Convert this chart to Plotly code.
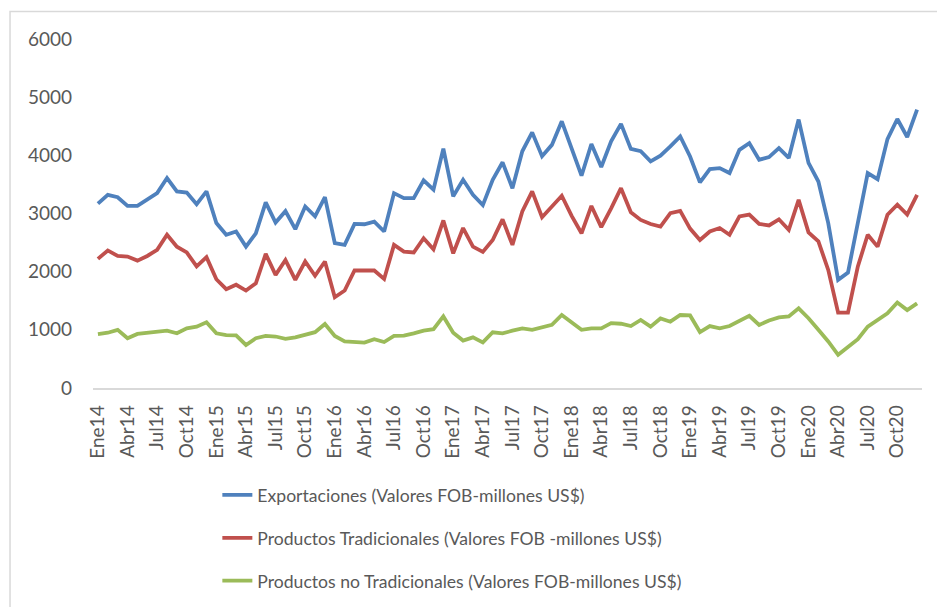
import plotly.graph_objects as go

months = ["Ene", "Feb", "Mar", "Abr", "May", "Jun", "Jul", "Ago", "Set", "Oct", "Nov", "Dic"]
years = ["14", "15", "16", "17", "18", "19", "20"]
categories = [m + y for y in years for m in months]

exportaciones = [
    3170, 3320, 3280, 3130, 3130, 3235, 3350, 3610, 3380, 3360, 3160, 3380,
    2835, 2635, 2690, 2430, 2660, 3190, 2845, 3040, 2730, 3120, 2950, 3280,
    2490, 2460, 2820, 2815, 2860, 2690, 3350, 3265, 3265, 3570, 3410, 4115,
    3295, 3580, 3320, 3145, 3580, 3880, 3435, 4070, 4395, 3985, 4180, 4585,
    4095, 3650, 4195, 3800, 4240, 4540, 4110, 4070, 3895, 3995, 4155, 4325,
    3980, 3535, 3765, 3780, 3695, 4095, 4210, 3925, 3970, 4125, 3955, 4615,
    3870, 3550, 2835, 1860, 1985, 2835, 3695, 3590, 4280, 4625, 4315, 4785,
]

tradicionales = [
    2220, 2365, 2270, 2260, 2190, 2270, 2375, 2635, 2430, 2330, 2090, 2250,
    1870, 1700, 1775, 1675, 1800, 2305, 1945, 2200, 1860, 2175, 1930, 2175,
    1560, 1675, 2020, 2020, 2020, 1875, 2460, 2345, 2330, 2575, 2385, 2880,
    2315, 2750, 2430, 2340, 2545, 2900, 2460, 3035, 3380, 2935, 3130, 3305,
    2960, 2660, 3130, 2765, 3090, 3435, 3020, 2890, 2820, 2775, 3005, 3045,
    2740, 2545, 2690, 2750, 2635, 2950, 2980, 2820, 2795, 2900, 2720, 3235,
    2675, 2520, 2030, 1295, 1295, 2090, 2635, 2430, 2980, 3150, 2980, 3320,
]

no_tradicionales = [
    925, 950, 1000, 855, 930, 950, 975, 985, 940, 1025, 1055, 1130,
    940, 910, 905, 740, 855, 895, 885, 845, 870, 920, 960, 1100,
    895, 800, 790, 780, 840, 790, 895, 900, 940, 985, 1010, 1230,
    950, 815, 870, 785, 958, 940, 985, 1025, 1000, 1045, 1085, 1255,
    1125, 1000, 1025, 1025, 1115, 1105, 1065, 1170, 1055, 1195, 1140, 1255,
    1248, 962, 1065, 1025, 1065, 1160, 1240, 1085, 1160, 1215, 1230, 1370,
    1200, 1000, 800, 570, 710, 840, 1055, 1180, 1285, 1470, 1340, 1455,
]

series_names = [
    "Exportaciones (Valores FOB-millones US$)",
    "Productos Tradicionales (Valores FOB -millones US$)",
    "Productos no Tradicionales (Valores FOB-millones US$)",
]
colors = ["#4F81BD", "#C0504D", "#9BBB59"]
y_ticks = [0, 1000, 2000, 3000, 4000, 5000, 6000]

FONT = "Lato, 'Open Sans', sans-serif"
TXT = "#595959"

fig = go.Figure()
x_idx = list(range(len(categories)))
for name, vals, col in zip(series_names, [exportaciones, tradicionales, no_tradicionales], colors):
    fig.add_trace(go.Scatter(
        x=x_idx, y=vals, mode="lines", name=name, legendgroup=name,
        line=dict(color=col, width=3.8, shape="linear"),
    ))

tick_idx = x_idx[::3]
fig.update_layout(
    width=937, height=607,
    margin=dict(l=93, r=15, t=39, b=219),
    paper_bgcolor="white", plot_bgcolor="white",
    font=dict(family=FONT, size=18, color=TXT),
    showlegend=True,
    legend=dict(
        orientation="v", xref="paper", x=0.15, xanchor="left",
        yref="container", y=1 - 477 / 607, yanchor="top",
        font=dict(family=FONT, size=17.6, color=TXT),
        tracegroupgap=17, bgcolor="rgba(0,0,0,0)",
    ),
    xaxis=dict(
        range=[-0.5, len(categories) - 0.5],
        tickmode="array", tickvals=tick_idx,
        ticktext=[categories[i] for i in tick_idx],
        tickangle=-90, showgrid=False, zeroline=False,
        showline=True, linecolor="#D9D9D9", linewidth=1.5,
        ticks="", ticklabelstandoff=8, automargin=False,
        tickfont=dict(family=FONT, size=19, color=TXT),
    ),
    yaxis=dict(
        range=[0, 6000], tickmode="array", tickvals=y_ticks,
        showgrid=False, zeroline=False, showline=False, ticks="",
        ticklabelstandoff=20, automargin=False,
        tickfont=dict(family=FONT, size=19, color=TXT),
    ),
    shapes=[dict(
        type="rect", xref="paper", yref="paper",
        x0=-0.1001, x1=1.06, y0=-0.7, y1=1.0789,
        line=dict(color="#D9D9D9", width=1.5), layer="below",
    )],
)

fig.write_html(
    "out.html",
    config={"displayModeBar": False},
    post_script="document.body.style.margin='0';document.body.style.overflow='hidden';",
)
